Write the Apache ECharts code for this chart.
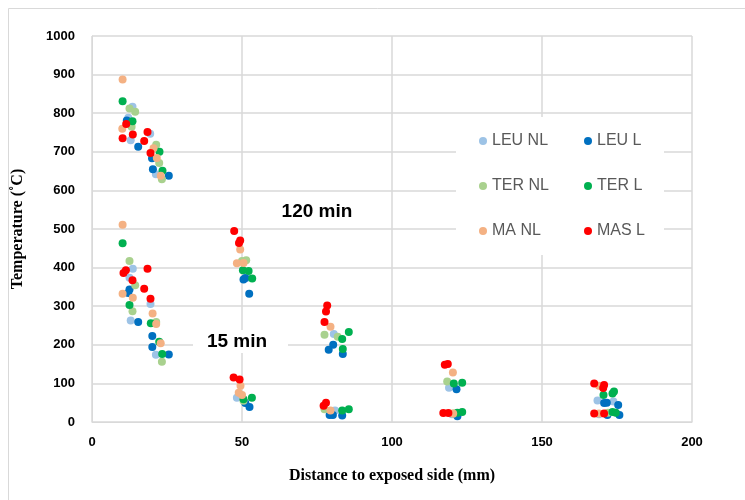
<!DOCTYPE html>
<html>
<head>
<meta charset="utf-8">
<script src="https://cdn.jsdelivr.net/npm/echarts@6/dist/echarts.min.js"></script>
<style>
  html, body { margin: 0; padding: 0; background: #fff; }
  #chart { width: 745px; height: 500px; }
</style>
</head>
<body>
<div id="chart"></div>
<script>
// [distance mm, temperature C]
var leuNL = [[13.5, 817], [12.1, 788], [12.9, 730], [19.4, 747], [21.3, 642],
    [13.6, 397], [12.5, 374], [19.5, 306], [12.9, 263], [21.3, 174],
    [51.6, 374], [48.3, 63], [80.6, 228], [81, 30], [119, 89], [120, 20],
    [168.5, 56], [173.8, 53], [169, 20]];
var leuL = [[11.6, 781], [15.4, 713], [20, 683], [20.3, 655], [25.6, 638],
    [12.5, 343], [12.1, 334], [15.4, 259], [20.1, 223], [20.1, 194], [25.6, 175],
    [50.5, 369], [51.1, 373], [52.4, 332], [51.1, 49], [52.5, 39],
    [80.4, 200], [78.9, 187], [83.6, 176], [79.2, 18], [80.3, 18], [83.4, 17],
    [121.5, 85], [121.8, 15], [170.7, 49], [171.6, 50], [175.4, 44], [171.8, 18], [175.8, 18]];
var terNL = [[12.5, 812], [14.4, 804], [13.2, 765], [21.4, 718], [22.4, 671], [23.3, 629],
    [12.5, 417], [14.4, 354], [13.5, 287], [21.4, 259], [23.3, 156],
    [50, 417], [51.4, 419], [50.5, 55], [77.5, 226], [81.9, 221], [77.5, 33],
    [118.4, 105], [120.5, 22], [172, 24]];
var terL = [[10.2, 831], [13.5, 779], [22.5, 700], [23.5, 651],
    [10.2, 463], [12.5, 303], [19.6, 256], [22.4, 208], [23.4, 176],
    [50.3, 393], [52.2, 391], [53.4, 372], [50.5, 59], [53.3, 63],
    [85.6, 233], [83.4, 215], [83.6, 189], [83.4, 30], [85.6, 33],
    [120.6, 100], [123.4, 102], [121.8, 24], [123.4, 26],
    [170.5, 70], [174, 79], [173.5, 74], [173.5, 26], [174.6, 24]];
var maNL = [[10.2, 887], [10.1, 760], [20.5, 709], [21.6, 684], [22.9, 638],
    [10.2, 511], [10.2, 332], [13.6, 322], [20.2, 281], [21.4, 254], [22.9, 204],
    [49.4, 447], [48.3, 411], [50.5, 412], [49.5, 94], [48.9, 76], [50, 70],
    [79.5, 247], [79.5, 30], [120.3, 128], [120.4, 22], [169, 94], [169, 22]];
var masL = [[11.4, 772], [13.6, 745], [10.2, 735], [18.5, 751], [17.4, 728], [19.5, 697],
    [18.5, 397], [11.3, 393], [10.5, 386], [13.5, 367], [17.4, 345], [19.5, 319],
    [47.4, 495], [49.4, 470], [49, 464], [47.2, 115], [49.2, 110],
    [78.4, 302], [78, 286], [77.5, 259], [78, 50], [77.2, 42],
    [117.6, 148], [118.6, 150], [117.1, 23], [118.8, 23],
    [167.4, 100], [170.7, 96], [170.4, 88], [167.4, 22], [170.7, 22]];

var seriesNames = ['LEU NL', 'LEU L', 'TER NL', 'TER L', 'MA NL', 'MAS L'];
var seriesData = [leuNL, leuL, terNL, terL, maNL, masL];
var seriesColors = ['#9DC3E6', '#0070C0', '#A9D18E', '#00B050', '#F4B183', '#FF0000'];

var gridColor = '#D9D9D9';
var labelFont = { color: '#000', fontWeight: 'bold', fontSize: 13, fontFamily: 'Liberation Sans' };
var nameFont = { color: '#000', fontWeight: 'bold', fontSize: 16, fontFamily: 'Liberation Serif' };
var legendText = { color: '#595959', fontSize: 16, fontFamily: 'Liberation Sans' };

function makeLegend(names, left) {
    return {
        orient: 'vertical',
        left: left,
        top: 128,
        itemWidth: 8,
        itemHeight: 8,
        itemGap: 29,
        icon: 'circle',
        textStyle: legendText,
        data: names
    };
}

// white boxes that sit on the gridlines, like the Excel text boxes
function box(x, y, w, h) {
    return { type: 'rect', z: 3, shape: { x: x, y: y, width: w, height: h }, style: { fill: '#fff' } };
}
function label(text, cx, cy) {
    return {
        type: 'text', z: 4, x: cx, y: cy,
        style: { text: text, fill: '#000', font: 'bold 19px "Liberation Sans"', align: 'center', verticalAlign: 'middle' }
    };
}

function plain(v) {
    return String(v);
}

var chart = echarts.init(document.getElementById('chart'));
chart.setOption({
    animation: false,
    backgroundColor: '#fff',
    grid: { left: 92, right: 53, top: 36, bottom: 78 },
    legend: [
        makeLegend(['LEU NL', 'TER NL', 'MA NL'], 474),
        makeLegend(['LEU L', 'TER L', 'MAS L'], 579)
    ],
    xAxis: {
        type: 'value', min: 0, max: 200, interval: 50,
        name: 'Distance to exposed side (mm)', nameLocation: 'middle', nameGap: 46,
        nameTextStyle: nameFont,
        axisLine: { show: true, lineStyle: { color: gridColor } },
        axisTick: { show: false },
        axisLabel: Object.assign({ margin: 14, formatter: plain }, labelFont),
        splitLine: { show: true, lineStyle: { color: gridColor, width: 1.5 } }
    },
    yAxis: {
        type: 'value', min: 0, max: 1000, interval: 100,
        name: 'Temperature (\u02DAC)', nameLocation: 'middle', nameGap: 66,
        nameTextStyle: nameFont,
        axisLine: { show: true, lineStyle: { color: gridColor } },
        axisTick: { show: false },
        axisLabel: Object.assign({ margin: 17, formatter: plain }, labelFont),
        splitLine: { show: true, lineStyle: { color: gridColor, width: 1.5 } }
    },
    graphic: [
        { type: 'rect', z: -1, shape: { x: 8.5, y: 8.5, width: 800, height: 600 }, style: { fill: null, stroke: gridColor, lineWidth: 1 } },
        box(456, 117, 208, 138),
        box(267, 193, 96, 33),
        box(193, 330, 95, 23),
        label('120 min', 317, 212),
        label('15 min', 237, 342)
    ],
    series: seriesNames.map(function(name, i) {
        return {
            name: name,
            type: 'scatter',
            symbol: 'circle',
            symbolSize: 8,
            itemStyle: { color: seriesColors[i], opacity: 1 },
            data: seriesData[i]
        };
    })
});
</script>
</body>
</html>
